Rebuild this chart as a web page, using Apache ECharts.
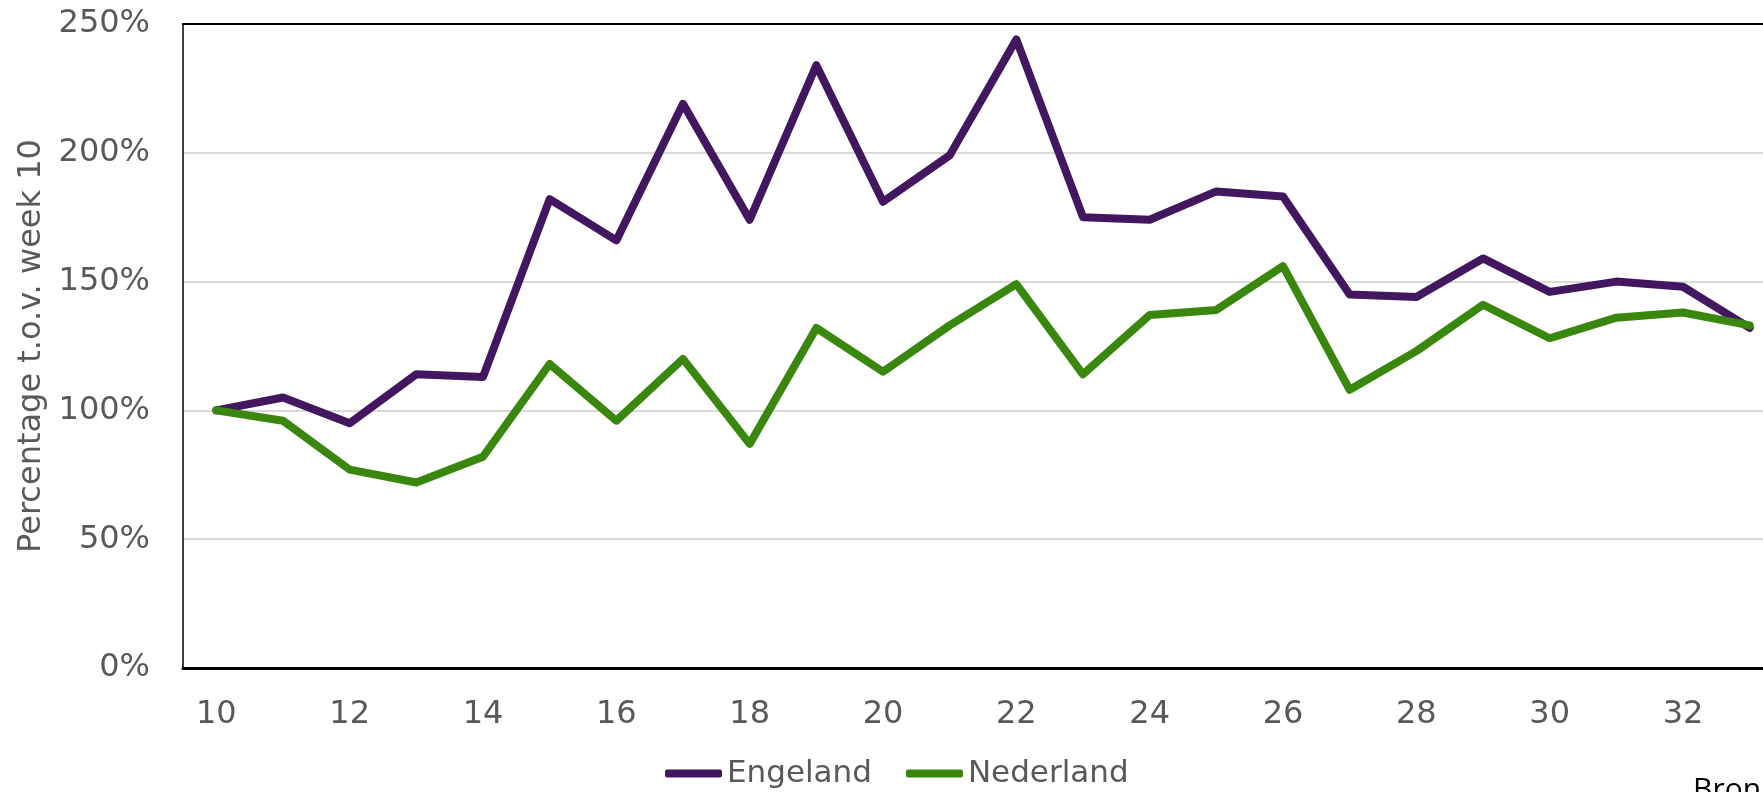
<!DOCTYPE html>
<html>
<head>
<meta charset="utf-8">
<title>Percentage t.o.v. week 10</title>
<script src="https://cdn.jsdelivr.net/npm/echarts@6/dist/echarts.min.js"></script>
<style>
  html, body { margin: 0; padding: 0; background: #fff; }
  #chart { width: 1763px; height: 792px; }
</style>
</head>
<body>
<div id="chart"></div>
<script>
// weken 10 t/m 33
const weeks = ["10", "11", "12", "13", "14", "15", "16", "17", "18", "19", "20", "21",
  "22", "23", "24", "25", "26", "27", "28", "29", "30", "31", "32", "33"];
const engeland = [100, 105, 95, 114, 113, 182, 166, 219, 174, 234, 181, 199,
  244, 175, 174, 185, 183, 145, 144, 159, 146, 150, 148, 132];
const nederland = [100, 96, 77, 72, 82, 118, 96, 120, 87, 132, 115, 133,
  149, 114, 137, 139, 156, 108, 123, 141, 128, 136, 138, 133];
const seriesNames = ["Engeland", "Nederland"];
const yTicks = { min: 0, max: 250, step: 50 };

const font = "DejaVu Sans";
const grey = "#595959";

const chart = echarts.init(document.getElementById("chart"));
const option = {
  animation: false,
  color: ["#43175F", "#3A870E"],
  grid: {
    left: 183,
    top: 24,
    width: 1600,
    bottom: 124,
    outerBoundsMode: "none",
  },
  legend: {
    left: 660,
    top: 753,
    itemGap: 34,
    itemWidth: 57,
    itemHeight: 8,
    icon: "roundRect",
    data: seriesNames,
    textStyle: { color: grey, fontSize: 31, fontFamily: font },
  },
  xAxis: [
    {
      type: "category",
      boundaryGap: true,
      data: weeks,
      axisLine: { lineStyle: { color: "#000", width: 3 } },
      axisTick: {
        interval: 0,
        length: 9,
        lineStyle: { color: "#000", width: 2 },
      },
      axisLabel: {
        interval: 1,
        margin: 31,
        color: grey,
        fontSize: 32,
        fontFamily: font,
      },
    },
    {
      // bovenrand van het plotvlak
      type: "category",
      position: "top",
      data: weeks,
      axisLine: { lineStyle: { color: "#000", width: 2 } },
      axisTick: { show: false },
      axisLabel: { show: false },
    },
  ],
  yAxis: {
    type: "value",
    min: yTicks.min,
    max: yTicks.max,
    interval: yTicks.step,
    name: "Percentage t.o.v. week 10",
    nameLocation: "middle",
    nameGap: 131,
    nameTextStyle: { color: grey, fontSize: 32, fontFamily: font },
    axisLine: { show: true, lineStyle: { color: "#000", width: 1.5 } },
    axisTick: { show: false },
    axisLabel: {
      margin: 33,
      padding: [4, 0, 0, 0],
      color: grey,
      fontSize: 32,
      fontFamily: font,
      formatter: "{value}%",
    },
    splitLine: { lineStyle: { color: "#d9d9d9", width: 2 } },
  },
  graphic: [
    {
      type: "text",
      left: 1693,
      top: 775,
      style: { text: "Bron", fill: "#000", fontSize: 30, fontFamily: "Open Sans" },
    },
  ],
  series: [
    {
      name: seriesNames[0],
      type: "line",
      symbol: "none",
      data: engeland,
      lineStyle: { width: 8, cap: "round", join: "round" },
    },
    {
      name: seriesNames[1],
      type: "line",
      symbol: "none",
      data: nederland,
      lineStyle: { width: 8, cap: "round", join: "round" },
    },
  ],
};
chart.setOption(option);
</script>
</body>
</html>
